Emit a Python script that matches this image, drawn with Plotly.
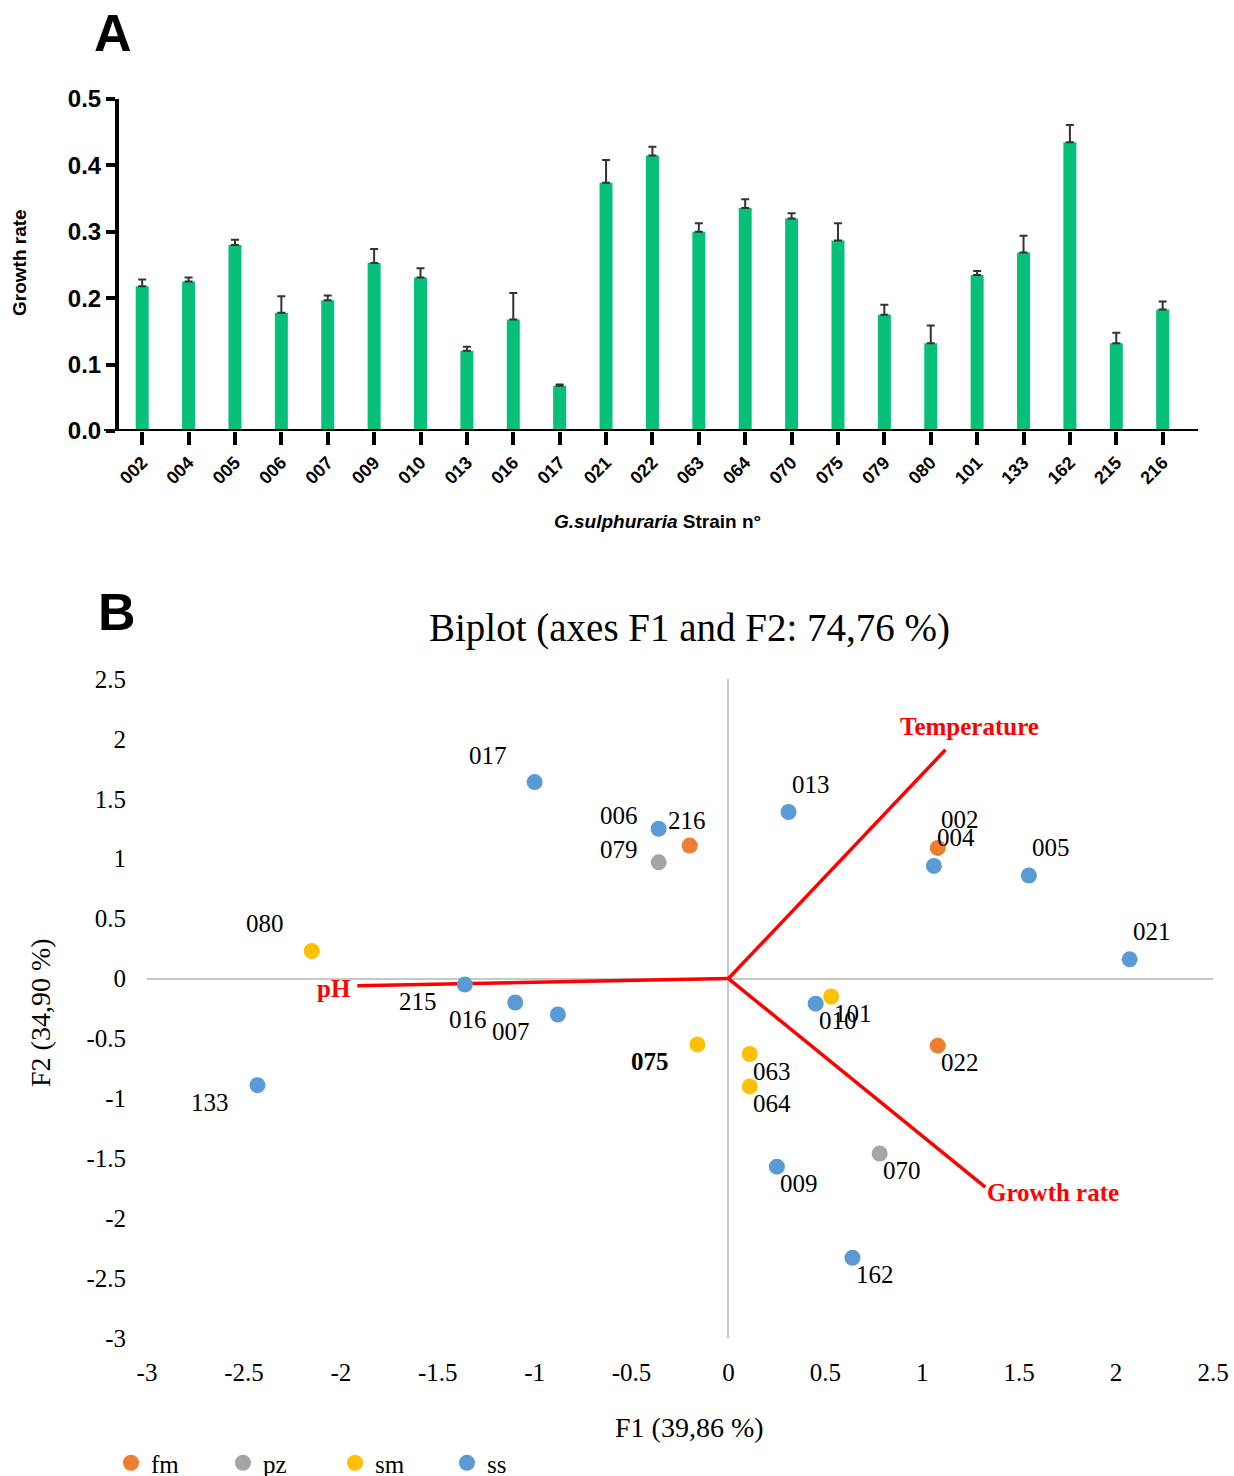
import plotly.graph_objects as go

# ---------------- Panel A data ----------------
strains = ["002", "004", "005", "006", "007", "009", "010", "013", "016", "017", "021", "022",
           "063", "064", "070", "075", "079", "080", "101", "133", "162", "215", "216"]
growth = [0.218, 0.225, 0.280, 0.178, 0.197, 0.253, 0.231, 0.121, 0.168, 0.068, 0.374, 0.415,
          0.300, 0.336, 0.320, 0.287, 0.175, 0.132, 0.235, 0.269, 0.435, 0.132, 0.183]
growth_sd = [0.010, 0.006, 0.008, 0.025, 0.007, 0.021, 0.014, 0.006, 0.040, 0.002, 0.034, 0.013,
             0.013, 0.013, 0.008, 0.026, 0.015, 0.027, 0.006, 0.025, 0.026, 0.016, 0.012]
a_yticks = [0.0, 0.1, 0.2, 0.3, 0.4, 0.5]

# ---------------- Panel B data ----------------
pts_label = ["017", "006", "216", "079", "013", "002", "004", "005", "021", "080", "215", "016",
             "007", "133", "075", "063", "064", "010", "101", "022", "070", "009", "162"]
pts_group = ["ss", "ss", "fm", "pz", "ss", "fm", "ss", "ss", "ss", "sm", "ss", "ss",
             "ss", "ss", "sm", "sm", "sm", "ss", "sm", "fm", "pz", "ss", "ss"]
pts_f1 = [-1.00, -0.36, -0.20, -0.36, 0.31, 1.08, 1.06, 1.55, 2.07, -2.15, -1.36, -1.10,
          -0.88, -2.43, -0.16, 0.11, 0.11, 0.45, 0.53, 1.08, 0.78, 0.25, 0.64]
pts_f2 = [1.64, 1.25, 1.11, 0.97, 1.39, 1.09, 0.94, 0.86, 0.16, 0.23, -0.05, -0.20,
          -0.30, -0.89, -0.55, -0.63, -0.90, -0.21, -0.15, -0.56, -1.46, -1.57, -2.33]
var_names = ["Temperature", "pH", "Growth rate"]
var_f1 = [1.12, -1.915, 1.325]
var_f2 = [1.91, -0.06, -1.74]
groups = ["fm", "pz", "sm", "ss"]
b_ticks = [-3, -2.5, -2, -1.5, -1, -0.5, 0, 0.5, 1, 1.5, 2, 2.5]
b_ticktext = ["-3", "-2.5", "-2", "-1.5", "-1", "-0.5", "0", "0.5", "1", "1.5", "2", "2.5"]

# ---------------- styles ----------------
W, H = 1234, 1476
SANS = "Liberation Sans, Arial, sans-serif"
SERIF = "Liberation Serif, Times New Roman, serif"
group_colors = {"fm": "#ED7D31", "pz": "#A5A5A5", "sm": "#FFC000", "ss": "#5B9BD5"}
label_pos = {"017": "ul", "006": "l", "216": "u", "079": "l", "013": "ur", "002": "ur", "004": "ur",
             "005": "ur", "021": "ur", "080": "ul", "215": "ll", "016": "ll", "007": "ll", "133": "ll",
             "075": "ll", "063": "lr", "064": "lr", "010": "lr", "101": "lr", "022": "lr", "070": "lr",
             "009": "lr", "162": "lr"}
offsets = {"ul": (-47, 27), "ur": (22, 28), "ll": (-47, -17), "lr": (22, -17), "l": (-40, 13), "u": (-3, 25)}


def px_x(p):
    return p / W


def px_y(p):
    return 1 - p / H


fig = go.Figure()

fig.add_trace(go.Bar(
    x=strains, y=growth, width=0.28, marker=dict(color="#06BF78", line=dict(width=0)),
    error_y=dict(type="data", array=growth_sd, arrayminus=[0] * len(growth_sd), symmetric=False,
                 color="#333333", thickness=2, width=4),
    xaxis="x", yaxis="y", showlegend=False))

for n, vx, vy in zip(var_names, var_f1, var_f2):
    fig.add_trace(go.Scatter(x=[0, vx], y=[0, vy], mode="lines", line=dict(color="#FF0000", width=3.5),
                             xaxis="x2", yaxis="y2", showlegend=False, hoverinfo="skip"))

for g in groups:
    idx = [i for i, gg in enumerate(pts_group) if gg == g]
    fig.add_trace(go.Scatter(
        x=[pts_f1[i] for i in idx], y=[pts_f2[i] for i in idx], mode="markers", name=g,
        marker=dict(color=group_colors[g], size=16, line=dict(width=0)),
        xaxis="x2", yaxis="y2"))

annotations = []
for lab, fx, fy in zip(pts_label, pts_f1, pts_f2):
    dx, dy = offsets[label_pos[lab]]
    txt = "<b>%s</b>" % lab if lab == "075" else lab
    annotations.append(dict(x=fx, y=fy, xref="x2", yref="y2", text=txt, showarrow=False,
                            xanchor="center", yanchor="middle",
                            xshift=dx, yshift=dy, font=dict(family=SERIF, size=25, color="black")))
vec_lab_off = {"Temperature": (24, 23, "center"), "pH": (-4, -3, "right"), "Growth rate": (0, -5, "left")}
for n, vx, vy in zip(var_names, var_f1, var_f2):
    dx, dy, al = vec_lab_off[n]
    annotations.append(dict(x=vx, y=vy, xref="x2", yref="y2", text="<b>%s</b>" % n, showarrow=False,
                            xshift=dx, yshift=dy, xanchor=al, yanchor="middle",
                            font=dict(family=SERIF, size=25, color="#FF0000")))


def paper_text(x, y, text, font, angle=0):
    return dict(x=px_x(x), y=px_y(y), xref="paper", yref="paper", text=text, showarrow=False,
                xanchor="center", yanchor="middle", textangle=angle, font=font)


annotations += [
    paper_text(113, 33, "<b>A</b>", dict(family=SANS, size=52, color="black")),
    paper_text(117, 612, "<b>B</b>", dict(family=SANS, size=52, color="black")),
    paper_text(19, 263, "<b>Growth rate</b>", dict(family=SANS, size=19, color="black"), -90),
    paper_text(657, 521, "<b><i>G.sulphuraria</i> Strain n°</b>", dict(family=SANS, size=19, color="black")),
    paper_text(689, 628, "Biplot (axes F1 and F2: 74,76 %)", dict(family=SERIF, size=39, color="black")),
    paper_text(689, 1427, "F1 (39,86 %)", dict(family=SERIF, size=28, color="black")),
    paper_text(40, 1013, "F2 (34,90 %)", dict(family=SERIF, size=28, color="black"), -90),
]

shapes = [
    dict(type="line", xref="paper", yref="y", x0=px_x(104), x1=px_x(1198), y0=0, y1=0,
         line=dict(color="black", width=4)),
]

fig.update_layout(
    width=W, height=H, margin=dict(l=0, r=0, t=0, b=0, autoexpand=False),
    paper_bgcolor="white", plot_bgcolor="white",
    xaxis=dict(domain=[px_x(119), px_x(1197)], anchor="y", type="category", range=[-0.5, 22.74],
               showgrid=False, showline=False, zeroline=False, automargin=False,
               ticks="outside", ticklen=13, tickwidth=3.5, tickcolor="black", tickangle=-45,
               tickfont=dict(family=SANS, size=18, color="black", weight="bold")),
    yaxis=dict(domain=[px_y(431), px_y(99)], anchor="x", range=[0, 0.5], tickvals=a_yticks,
               ticktext=["%.1f" % v for v in a_yticks], automargin=False,
               showgrid=False, zeroline=False, showline=True, linewidth=4, linecolor="black",
               ticks="outside", ticklen=9, tickwidth=4, tickcolor="black",
               tickfont=dict(family=SANS, size=24, color="black", weight="bold")),
    xaxis2=dict(domain=[px_x(147), px_x(1213)], anchor="y2", range=[-3, 2.5], tickvals=b_ticks,
                ticktext=b_ticktext, automargin=False,
                showgrid=False, showline=False, zeroline=True, zerolinecolor="#C8C8C8", zerolinewidth=2,
                ticks="", ticklabelstandoff=17,
                tickfont=dict(family=SERIF, size=25, color="black")),
    yaxis2=dict(domain=[px_y(1338), px_y(679)], anchor="x2", range=[-3, 2.5], tickvals=b_ticks,
                ticktext=b_ticktext, automargin=False,
                showgrid=False, showline=False, zeroline=True, zerolinecolor="#C8C8C8", zerolinewidth=2,
                ticks="", ticklabelstandoff=20,
                tickfont=dict(family=SERIF, size=25, color="black")),
    legend=dict(orientation="h", x=px_x(111), y=px_y(1463), xanchor="left", yanchor="middle",
                entrywidth=67, entrywidthmode="pixels", itemsizing="trace",
                font=dict(family=SERIF, size=25, color="black"), bgcolor="rgba(0,0,0,0)",
                borderwidth=0, tracegroupgap=0),
    annotations=annotations, shapes=shapes,
)

fig.write_html("out.html", config={"displayModeBar": False},
               post_script="document.body.style.margin='0';document.body.style.overflow='hidden';")
